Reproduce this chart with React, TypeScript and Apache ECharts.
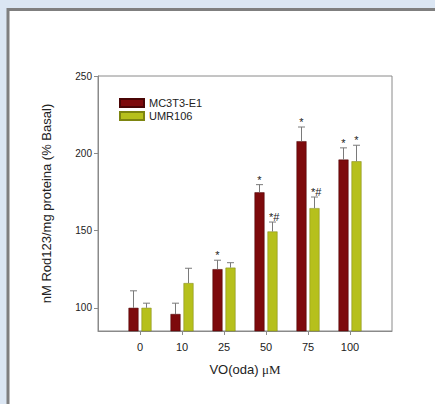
import React, { useEffect, useRef } from "react";
import * as echarts from "echarts";

const categories = ["0", "10", "25", "50", "75", "100"];
const seriesNames = ["MC3T3-E1", "UMR106"];
const mc3t3Values = [100, 96, 125, 174.7, 207.8, 195.9];
const mc3t3Errors = [11, 7, 5.8, 5, 9.2, 7.6];
const mc3t3Marks = ["", "", "*", "*", "*", "*"];
const umrValues = [100, 116, 126, 149.4, 164.5, 194.8];
const umrErrors = [3, 9.6, 3.2, 6.1, 7.2, 10.4];
const umrMarks = ["", "", "", "*#", "*#", "*"];
const yTicks = [100, 150, 200, 250];

const RED = "#7d0a0c";
const GREEN = "#b6c01c";
const BAR_W = 10;
const BAR_GAP = 3;
const AXIS = "#8a8a8a";
const FONT = "'Liberation Sans', Arial, sans-serif";

export default function App() {
  const ref = useRef<HTMLDivElement>(null);
  useEffect(() => {
    if (!ref.current) return;
    const chart = echarts.init(ref.current, null, { renderer: "svg" });
    const xCats = ["", ...categories, ""];
    const pad = (a: any[]) => ["-", ...a, "-"];

    const errData = (vals: number[], errs: number[]) =>
      vals.map((v, i) => [i + 1, v, errs[i]]);

    const makeErr = (offset: number, marks: string[]) => (params: any, api: any) => {
      const idx = api.value(0);
      const v = api.value(1);
      const e = api.value(2);
      const mark = marks[params.dataIndex] || "";
      const base = api.coord([idx, v]);
      const top = api.coord([idx, v + e]);
      const x = base[0] + offset;
      const children: any[] = [
        { type: "line", shape: { x1: x, y1: base[1], x2: x, y2: top[1] }, style: { stroke: "#7a7a7a", lineWidth: 1 } },
        { type: "line", shape: { x1: x - 3.5, y1: top[1], x2: x + 3.5, y2: top[1] }, style: { stroke: "#7a7a7a", lineWidth: 1 } },
      ];
      if (mark) {
        children.push({
          type: "text",
          style: {
            text: mark,
            x: mark.length > 1 ? x - 3.5 : x,
            y: top[1] - 5,
            align: mark.length > 1 ? "left" : "center",
            verticalAlign: "middle",
            fontSize: 11,
            fontFamily: FONT,
            fill: "#222",
          },
        });
      }
      return { type: "group", children };
    };

    const off = (BAR_W + BAR_GAP) / 2;

    chart.setOption({
      animation: false,
      backgroundColor: "#dbe6f3",
      graphic: [
        {
          type: "rect",
          shape: { x: 8, y: 9.5, width: 600, height: 600 },
          style: { fill: "#ffffff", stroke: "#7f7f7f", lineWidth: 3 },
          z: -10,
          silent: true,
        },
      ],
      grid: {
        left: 98,
        top: 76,
        right: 43,
        bottom: 73,
        show: true,
        borderColor: AXIS,
        borderWidth: 1,
        backgroundColor: "transparent",
      },
      legend: {
        orient: "vertical",
        left: 119,
        top: 97,
        itemWidth: 24,
        itemHeight: 8,
        itemGap: 1,
        padding: 0,
        icon: "rect",
        data: seriesNames,
        textStyle: { fontSize: 11, fontFamily: FONT, color: "#222", lineHeight: 12 },
      },
      xAxis: {
        type: "category",
        data: xCats,
        boundaryGap: false,
        axisLine: { lineStyle: { color: AXIS } },
        axisTick: { length: 4, lineStyle: { color: AXIS }, interval: (i: number) => i > 0 && i < xCats.length - 1 },
        axisLabel: { fontSize: 11, fontFamily: FONT, color: "#222", margin: 10, interval: 0 },
        name: "VO(oda) {mu|μM}",
        nameLocation: "middle",
        nameGap: 32,
        nameTextStyle: {
          fontSize: 13,
          fontFamily: FONT,
          color: "#222",
          rich: { mu: { fontSize: 13, fontFamily: "'Liberation Serif', serif", color: "#222" } },
        },
      },
      yAxis: {
        type: "value",
        min: 85,
        max: 250,
        axisLine: { show: true, lineStyle: { color: AXIS } },
        splitLine: { show: false },
        axisTick: { show: true, length: 4, lineStyle: { color: AXIS }, customValues: yTicks },
        axisLabel: { fontSize: 10, fontFamily: FONT, color: "#222", margin: 6, customValues: yTicks },
        name: "nM Rod123/mg proteina (% Basal)",
        nameLocation: "middle",
        nameGap: 45,
        nameTextStyle: { fontSize: 13, fontFamily: FONT, color: "#222" },
      },
      series: [
        {
          name: seriesNames[0],
          type: "bar",
          data: pad(mc3t3Values),
          barWidth: BAR_W,
          barGap: "30%",
          itemStyle: { color: RED, borderColor: "#4a0505", borderWidth: 0.5 },
        },
        {
          name: seriesNames[1],
          type: "bar",
          data: pad(umrValues),
          barWidth: BAR_W,
          itemStyle: { color: GREEN, borderColor: "#7d8510", borderWidth: 0.5 },
        },
        {
          type: "custom",
          renderItem: makeErr(-off, mc3t3Marks),
          data: errData(mc3t3Values, mc3t3Errors),
          clip: false,
          z: 5,
        },
        {
          type: "custom",
          renderItem: makeErr(off, umrMarks),
          data: errData(umrValues, umrErrors),
          clip: false,
          z: 5,
        },
      ],
    });
    return () => chart.dispose();
  }, []);

  return (
    <div
      ref={ref}
      style={{ position: "fixed", left: 0, top: 0, width: 435, height: 404 }}
    />
  );
}
